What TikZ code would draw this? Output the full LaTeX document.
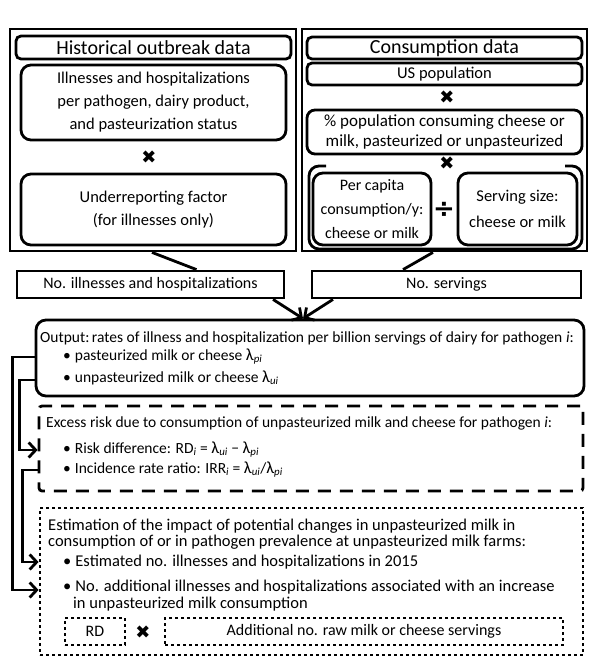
\documentclass[tikz,border=0pt]{standalone}
\usepackage{fontspec}
\setmainfont{Carlito}
\newfontfamily\markfont{DejaVu Sans}
\usetikzlibrary{arrows.meta}

\tikzset{
	outerbox/.style={draw, line width=2.8pt, inner sep=0pt},
	titlebox/.style={draw, line width=2.8pt, rounded corners=5pt, minimum width=275pt, inner sep=0pt, font=\fontsize{20}{22}\selectfont},
	databox/.style={draw, line width=2.8pt, rounded corners=10pt, align=center, inner sep=0pt, font=\fontsize{16.5}{23}\selectfont},
	flatbox/.style={draw, line width=2.8pt, minimum height=27pt, inner sep=0pt, font=\fontsize{16}{18}\selectfont},
	dotbox/.style={draw, line width=2.8pt, dash pattern=on 2.8pt off 3.2pt, inner sep=0pt},
	bodytext/.style={anchor=base west, inner sep=0pt, font=\fontsize{15.5}{18}\selectfont},
	timesmark/.style={inner sep=0pt, font=\markfont\fontsize{18}{18}\selectfont},
	conn/.style={line width=2.8pt},
	arrowconn/.style={line width=2.8pt, -{Straight Barb[length=7pt,width=15pt]}},
}
\newcommand{\lam}{{\fontsize{17}{18}\selectfont λ}}

\begin{document}
\begin{tikzpicture}[x=1pt, y=-1pt]
	\useasboundingbox (0,0) rectangle (600,671);

	% outbreak side
	\node[outerbox, minimum width=286pt, minimum height=222pt] (histbox) at (153,140) {};
	\node[titlebox, minimum height=23pt] (histtitle) at (153.5,47.5) {Historical outbreak data};
	\node[databox, minimum width=265pt, minimum height=75pt] (casedata) at (153.5,102.5) {Illnesses and hospitalizations\\per pathogen, dairy product,\\and pasteurization status};
	\node[timesmark] (histtimes) at (149,157) {✖};
	\node[databox, minimum width=265pt, minimum height=71pt] (underrep) at (153.5,209.5) {Underreporting factor\\(for illnesses only)};

	% consumption side
	\node[outerbox, minimum width=285pt, minimum height=222pt] (consbox) at (444.5,140) {};
	\node[titlebox, minimum height=22pt] (constitle) at (444.5,48) {Consumption data};
	\node[titlebox, minimum height=22pt, font=\fontsize{16.5}{18}\selectfont] (uspop) at (444.5,74) {US population};
	\node[timesmark] (constimesa) at (447,97) {✖};
	\node[databox, rounded corners=8pt, minimum width=275pt, minimum height=44pt, font=\fontsize{17}{20}\selectfont] (consfrac) at (444.5,132) {\% population consuming cheese or\\milk, pasteurized or unpasteurized};
	\node[timesmark] (constimesb) at (447,163) {✖};
	\draw[conn, rounded corners=10pt] (326,166) -- (309,166) -- (309,249) -- (582,249) -- (582,166) -- (565,166);
	\node[databox, minimum width=118pt, minimum height=72pt, font=\fontsize{16}{24}\selectfont] (percapita) at (372,209) {Per capita\\consumption/y:\\cheese or milk};
	\node[inner sep=0pt, font=\markfont\bfseries\fontsize{26}{26}\selectfont] (divmark) at (444,210) {÷};
	\node[databox, minimum width=119pt, minimum height=72pt, font=\fontsize{16.5}{26}\selectfont] (servsize) at (517.5,209) {Serving size:\\cheese or milk};

	% counts
	\node[flatbox, minimum width=267pt] (illcount) at (150.5,284.5) {No. illnesses and hospitalizations};
	\node[flatbox, minimum width=269pt] (servcount) at (446.5,284.5) {No. servings};
	\draw[conn] ([xshift=-1pt]histbox.south) -- ([xshift=46pt]illcount.north);
	\draw[conn] ([xshift=-11.5pt]consbox.south) -- ([xshift=-43.5pt]servcount.north);

	% rates
	\node[draw, line width=2.8pt, rounded corners=10pt, minimum width=548pt, minimum height=76pt] (ratebox) at (310,358) {};
	\draw[arrowconn] ([xshift=122.5pt]illcount.south) -- ([xshift=-7pt]ratebox.north);
	\draw[arrowconn] ([xshift=-113.5pt]servcount.south) -- ([xshift=-7pt]ratebox.north);
	\node[bodytext] (ratehead) at (40,342) {Output:\,rates of illness and hospitalization per billion servings of dairy for pathogen \textit{i}:};
	\node[bodytext] (ratepast) at (63,360) {•\hspace{4pt}pasteurized milk or cheese \lam\textsubscript{\textit{pi}}};
	\node[bodytext] (rateunpast) at (63,382) {•\hspace{4pt}unpasteurized milk or cheese \lam\textsubscript{\textit{ui}}};

	% excess risk
	\node[draw, line width=2.8pt, dash pattern=on 13pt off 9pt, rounded corners=3pt, minimum width=544pt, minimum height=85pt] (riskbox) at (311,448.5) {};
	\node[bodytext] (riskhead) at (46,427) {Excess risk due to consumption of unpasteurized milk and cheese for pathogen \textit{i}:};
	\node[bodytext] (riskdiff) at (63,453) {•\hspace{4pt}Risk difference: RD\textsubscript{\textit{i}} = \lam\textsubscript{\textit{ui}} − \lam\textsubscript{\textit{pi}}};
	\node[bodytext] (riskratio) at (63,473) {•\hspace{4pt}Incidence rate ratio: IRR\textsubscript{\textit{i}} = \lam\textsubscript{\textit{ui}}/\lam\textsubscript{\textit{pi}}};

	% impact
	\node[dotbox, minimum width=543pt, minimum height=147pt] (impactbox) at (311.5,581.5) {};
	\node[bodytext, font=\fontsize{16.5}{18}\selectfont] (impacthead) at (48,530) {Estimation of the impact of potential changes in unpasteurized milk in};
	\node[bodytext, font=\fontsize{16.5}{18}\selectfont] (impactheadb) at (48,546) {consumption of or in pathogen prevalence at unpasteurized milk farms:};
	\node[bodytext, font=\fontsize{16.5}{18}\selectfont] (impactest) at (63,566) {•\hspace{4pt}Estimated no. illnesses and hospitalizations in 2015};
	\node[bodytext, font=\fontsize{16.5}{18}\selectfont] (impactadd) at (63,591) {•\hspace{4pt}No. additional illnesses and hospitalizations associated with an increase};
	\node[bodytext, font=\fontsize{16.5}{18}\selectfont] (impactaddb) at (73,608) {in unpasteurized milk consumption};
	\node[dotbox, minimum width=60pt, minimum height=27pt, font=\fontsize{16}{18}\selectfont] (rdbox) at (95,631.5) {RD};
	\node[timesmark] (impacttimes) at (143,632) {✖};
	\node[dotbox, minimum width=398pt, minimum height=27pt, font=\fontsize{16}{18}\selectfont] (extraserv) at (364,631.5) {Additional no. raw milk or cheese servings};

	% feedback arrows on the left
	\draw[arrowconn] ([yshift=1pt]ratebox.west) -- ++(-22,0) |- ([yshift=-8.5pt]impactbox.west);
	\draw[arrowconn] ([yshift=-22pt]ratebox.west) -- ++(-15,0) |- ([yshift=-1.5pt]riskbox.west);
	\draw[arrowconn] ([yshift=-21.5pt]riskbox.west) -- ++(-15,0) |- ([yshift=19.5pt]impactbox.west);
\end{tikzpicture}
\end{document}
